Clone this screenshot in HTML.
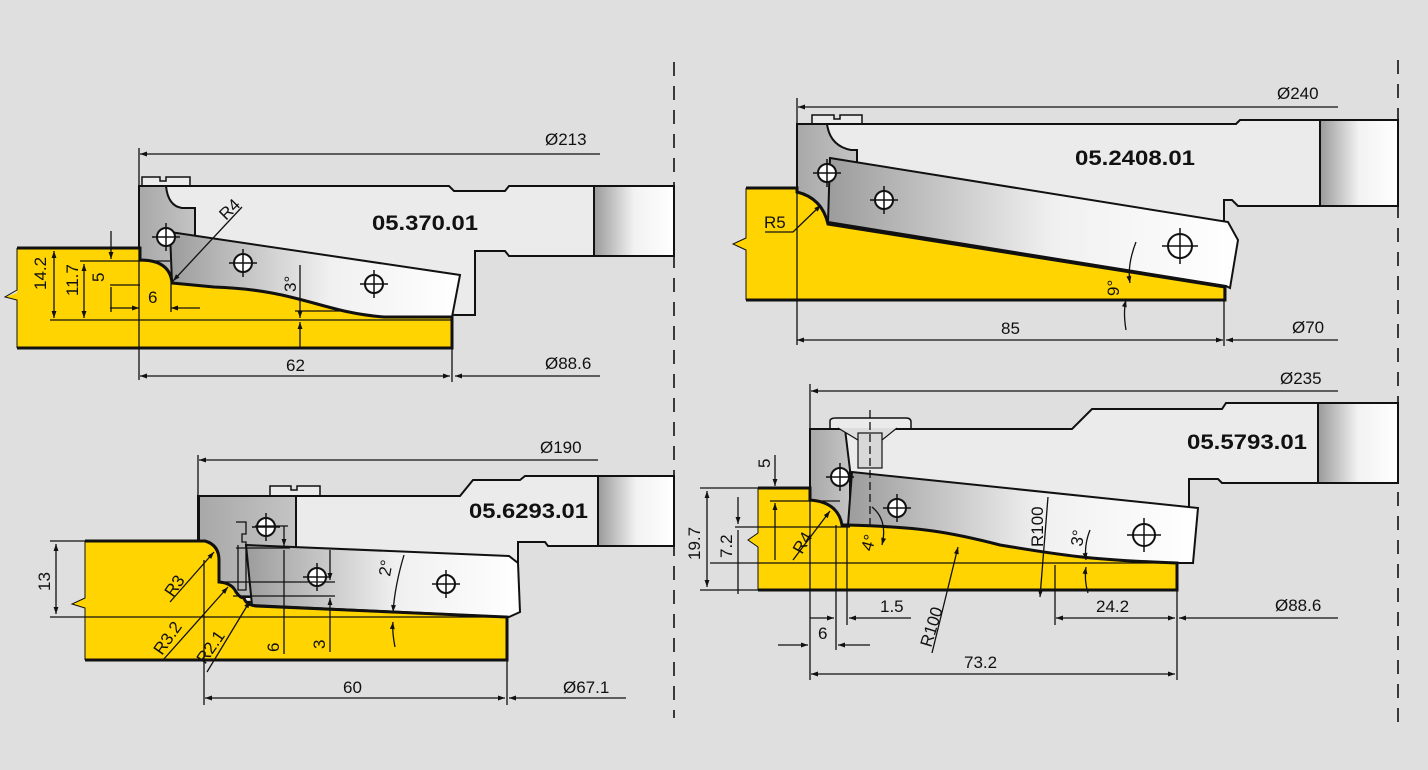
<!DOCTYPE html>
<html><head><meta charset="utf-8"><style>
html,body{margin:0;padding:0;background:#dfdfdf;}
svg{display:block;}
text{font-family:"Liberation Sans",sans-serif;fill:#111;}
.d{font-size:17px;}
.b{font-size:21px;font-weight:bold;}
</style></head><body>
<svg width="1428" height="770" viewBox="0 0 1428 770" xmlns="http://www.w3.org/2000/svg">
<defs>
<marker id="a" viewBox="0 0 10 10" refX="10" refY="5" markerWidth="9" markerHeight="7" orient="auto-start-reverse" markerUnits="userSpaceOnUse"><path d="M0,1.5 L10,5 L0,8.5z" fill="#111"/></marker>
<linearGradient id="hub" x1="0" x2="1"><stop offset="0" stop-color="#9a9a9a"/><stop offset="0.5" stop-color="#f2f2f2"/><stop offset="1" stop-color="#ffffff"/></linearGradient>
<linearGradient id="kn" x1="0" x2="1"><stop offset="0" stop-color="#9c9c9c"/><stop offset="0.55" stop-color="#f0f0f0"/><stop offset="1" stop-color="#ffffff"/></linearGradient>
<linearGradient id="hd" x1="0" x2="1"><stop offset="0" stop-color="#a8a8a8"/><stop offset="1" stop-color="#c4c4c4"/></linearGradient>
<g id="h"><circle r="9" fill="#fff" stroke="#111" stroke-width="2"/><path d="M-14,0H14M0,-14V14" stroke="#111" stroke-width="1.5"/></g>
</defs>
<rect width="1428" height="770" fill="#dfdfdf"/>
<g fill="none" stroke="#111" stroke-width="1.6" stroke-dasharray="14,10">
<line x1="674" y1="62" x2="674" y2="718"/><line x1="1398" y1="60" x2="1398" y2="722"/>
</g>

<!-- ===== Drawing 1 ===== -->
<g stroke="#111" stroke-width="1.5">
<path d="M139,186 H449 L454,191 H505 L509,186 H594 V256 H509 L505,251 H475 V315 H456 L139,300z" fill="#ebebeb" stroke-width="2"/>
<rect x="594" y="186" width="80" height="70" fill="url(#hub)" stroke-width="2"/>
<path d="M142,185 V177 H160 V181 H166 V177 H190 V185" fill="#ebebeb"/>
<path d="M139,186 H166 Q168,206 182,208 H195 V285 H139z" fill="url(#hd)" stroke-width="2"/>
<path d="M170,232 L460,275 L452,317 H384 C320,312 300,290 214,287 L172,283z" fill="url(#kn)" stroke-width="2"/>
<path d="M17,248 H140 V260 Q170,260 172,283 L214,287 C300,290 320,312 384,317 H452 V348 H17 V300 L5,297 L17,293z" fill="#ffd400" stroke="none"/>
<path d="M17,248 H140 V260 Q170,260 172,283 L214,287 C300,290 320,312 384,317 H452 V348 H17" fill="none" stroke-width="3"/>
<path d="M17,248 V290 L5,297 L17,300 V348" fill="none" stroke-width="1"/>
</g>
<use href="#h" x="166" y="237"/><use href="#h" x="243" y="263"/><use href="#h" x="374" y="284"/>
<g stroke="#111" stroke-width="1.3" fill="none">
<line x1="139" y1="148" x2="139" y2="380"/>
<line x1="600" y1="154" x2="140" y2="154" marker-end="url(#a)"/>
<line x1="50" y1="320" x2="452" y2="320"/>
<line x1="80" y1="261" x2="170" y2="261"/>
<line x1="110" y1="285" x2="140" y2="285"/>
<line x1="54" y1="251" x2="54" y2="318" marker-start="url(#a)" marker-end="url(#a)"/>
<line x1="84" y1="264" x2="84" y2="318" marker-start="url(#a)" marker-end="url(#a)"/>
<line x1="111" y1="231" x2="111" y2="259" marker-end="url(#a)"/>
<line x1="111" y1="287" x2="111" y2="312"/>
<line x1="110" y1="308" x2="139" y2="308" marker-end="url(#a)"/>
<line x1="200" y1="308" x2="171" y2="308" marker-end="url(#a)"/>
<line x1="171" y1="283" x2="171" y2="312"/>
<line x1="242" y1="207" x2="173" y2="281" marker-end="url(#a)"/>
<line x1="300" y1="265" x2="300" y2="318" marker-end="url(#a)"/>
<line x1="300" y1="348" x2="300" y2="322" marker-end="url(#a)"/>
<line x1="295" y1="311" x2="340" y2="311"/>
<line x1="452" y1="348" x2="452" y2="382"/>
<line x1="140" y1="376" x2="450" y2="376" marker-start="url(#a)" marker-end="url(#a)"/>
<line x1="600" y1="376" x2="455" y2="376" marker-end="url(#a)"/>
</g>
<text class="d" x="545" y="145" font-size="19">Ø213</text>
<text class="b" x="372" y="230" textLength="106" lengthAdjust="spacingAndGlyphs">05.370.01</text>
<text class="d" transform="translate(226,221) rotate(-45)">R4</text>
<text class="d" transform="translate(46,290) rotate(-90)">14.2</text>
<text class="d" transform="translate(78,296) rotate(-90)">11.7</text>
<text class="d" transform="translate(104,282) rotate(-90)">5</text>
<text class="d" x="148" y="303">6</text>
<text class="d" transform="translate(296,292) rotate(-90)" font-size="15">3°</text>
<text class="d" x="286" y="371" font-size="15">62</text>
<text class="d" x="545" y="369" font-size="19">Ø88.6</text>

<!-- ===== Drawing 2 ===== -->
<g stroke="#111" stroke-width="1.5">
<path d="M797,124 H1236 L1240,120 H1320 V206 H1238 L1232,200 H1224 V288 L797,230z" fill="#ebebeb" stroke-width="2"/>
<rect x="1320" y="120" width="78" height="86" fill="url(#hub)" stroke-width="2"/>
<path d="M812,123 V115 H834 V119 H840 V115 H862 V123" fill="#ebebeb"/>
<path d="M797,124 H827 Q830,146 851,150 H857 V225 H828 Q814,198 797,192z" fill="url(#hd)" stroke-width="2"/>
<path d="M830,158 L1228,222 L1238,240 L1230,288 L1226,286 L828,222z" fill="url(#kn)" stroke-width="2"/>
<path d="M746,188 H797 V192 Q822,198 828,224 L1225,287 V300 H746 V250 L733,244 L746,238z" fill="#ffd400" stroke="none"/>
<path d="M746,188 H797 V192 Q822,198 828,224 L1225,287 V300 H746" fill="none" stroke-width="3"/>
<path d="M746,188 V238 L733,244 L746,250 V300" fill="none" stroke-width="1"/>
</g>
<use href="#h" x="827" y="173"/><use href="#h" x="884" y="200"/>
<g transform="translate(1180,246)"><circle r="12" fill="#fff" stroke="#111" stroke-width="2"/><path d="M-18,0H18M0,-18V18" stroke="#111" stroke-width="1.5"/></g>
<g stroke="#111" stroke-width="1.3" fill="none">
<line x1="797" y1="98" x2="797" y2="345"/>
<line x1="1338" y1="107" x2="798" y2="107" marker-end="url(#a)"/>
<line x1="1224" y1="286" x2="1224" y2="346"/>
<line x1="797" y1="340" x2="1223" y2="340" marker-start="url(#a)" marker-end="url(#a)"/>
<line x1="1338" y1="340" x2="1226" y2="340" marker-end="url(#a)"/>
<path d="M1136,242 Q1127,265 1130,283" marker-end="url(#a)"/>
<path d="M1126,330 Q1123,312 1126,300" marker-end="url(#a)"/>
<path d="M765,232 H793 L821,205" marker-end="url(#a)"/>
</g>
<text class="d" x="1277" y="99" font-size="19">Ø240</text>
<text class="b" x="1075" y="165" textLength="120" lengthAdjust="spacingAndGlyphs">05.2408.01</text>
<text class="d" x="764" y="228" font-size="16">R5</text>
<text class="d" transform="translate(1119,296) rotate(-90)" font-size="15">9°</text>
<text class="d" x="1001" y="334" font-size="15">85</text>
<text class="d" x="1292" y="333" font-size="19">Ø70</text>

<!-- ===== Drawing 3 ===== -->
<g stroke="#111" stroke-width="1.5">
<path d="M198,496 H460 L473,480 H520 L525,476 H598 V546 H548 L545,542 H518 V612 L198,600z" fill="#ebebeb" stroke-width="2"/>
<rect x="598" y="476" width="76" height="70" fill="url(#hub)" stroke-width="2"/>
<path d="M270,495 V486 H291 V490 H297 V486 H320 V495" fill="#ebebeb"/>
<rect x="199" y="496" width="97" height="101" fill="url(#hd)" stroke-width="2"/>
<path d="M246,545 L509,556 L518,563 L520,612 L509,617 L252,605z" fill="url(#kn)" stroke-width="2"/>
<path d="M85,541 H205 Q219,545 219,560 V582 Q232,583 236,592 Q240,598 244,598 Q246,605 256,606 L507,617 V660 H85 V608 L72,604 L85,598z" fill="#ffd400" stroke="none"/>
<path d="M85,541 H205 Q219,545 219,560 V582 Q232,583 236,592 Q240,598 244,598 Q246,605 256,606 L507,617 V660 H85" fill="none" stroke-width="3"/>
<path d="M85,541 V598 L72,604 L85,608 V660" fill="none" stroke-width="1"/>
<path d="M236,522 H246 V534 H242 V542 H246 V590 H238 V545" fill="none" stroke-width="1.3"/>
</g>
<use href="#h" x="266" y="527"/><use href="#h" x="317" y="577"/><use href="#h" x="446" y="584"/>
<g stroke="#111" stroke-width="1.3" fill="none">
<line x1="198" y1="455" x2="198" y2="541"/>
<line x1="598" y1="460" x2="199" y2="460" marker-end="url(#a)"/>
<line x1="50" y1="541" x2="85" y2="541"/>
<line x1="50" y1="617" x2="507" y2="617"/>
<line x1="56" y1="544" x2="56" y2="614" marker-start="url(#a)" marker-end="url(#a)"/>
<line x1="236" y1="548" x2="290" y2="548"/>
<line x1="220" y1="582" x2="335" y2="582"/>
<line x1="233" y1="596" x2="335" y2="596"/>
<line x1="255" y1="526" x2="288" y2="526"/>
<line x1="284" y1="526" x2="284" y2="546" marker-end="url(#a)"/>
<line x1="284" y1="550" x2="284" y2="654"/>
<line x1="330" y1="550" x2="330" y2="580" marker-end="url(#a)"/>
<line x1="330" y1="598" x2="330" y2="652" marker-start="url(#a)"/>
<line x1="204" y1="560" x2="204" y2="705"/>
<line x1="507" y1="617" x2="507" y2="705"/>
<line x1="170" y1="602" x2="214" y2="552" marker-end="url(#a)"/>
<line x1="163" y1="660" x2="228" y2="587" marker-end="url(#a)"/>
<line x1="207" y1="672" x2="250" y2="601" marker-end="url(#a)"/>
<path d="M404,555 Q395,585 393,612" marker-end="url(#a)"/>
<path d="M395,647 Q392,632 393,622" marker-end="url(#a)"/>
<line x1="205" y1="698" x2="505" y2="698" marker-start="url(#a)" marker-end="url(#a)"/>
<line x1="626" y1="698" x2="509" y2="698" marker-end="url(#a)"/>
</g>
<text class="d" x="540" y="453" font-size="19">Ø190</text>
<text class="b" x="469" y="518" textLength="119" lengthAdjust="spacingAndGlyphs">05.6293.01</text>
<text class="d" transform="translate(50,591) rotate(-90)">13</text>
<text class="d" transform="translate(173,598) rotate(-55)">R3</text>
<text class="d" transform="translate(162,656) rotate(-55)">R3.2</text>
<text class="d" transform="translate(205,665) rotate(-55)">R2.1</text>
<text class="d" transform="translate(279,652) rotate(-90)">6</text>
<text class="d" transform="translate(325,649) rotate(-90)">3</text>
<text class="d" transform="translate(390,577) rotate(-80)" font-size="15">2°</text>
<text class="d" x="343" y="693">60</text>
<text class="d" x="563" y="693" font-size="19">Ø67.1</text>

<!-- ===== Drawing 4 ===== -->
<g stroke="#111" stroke-width="1.5">
<path d="M810,429 H1072 L1092,409 H1222 L1226,403 H1318 V483 H1222 L1218,479 H1189 V510 L1193,563 L810,540z" fill="#ebebeb" stroke-width="2"/>
<rect x="1318" y="403" width="80" height="80" fill="url(#hub)" stroke-width="2"/>
<path d="M830,428 V421 Q830,418 836,418 H906 Q911,418 911,422 V428" fill="#ebebeb"/>
<path d="M810,429 H845 L850,470 V525 H840 Q830,505 810,500z" fill="url(#hd)" stroke-width="2"/>
<path d="M838,428 L858,440 L882,440 L897,428" fill="#ddd" stroke-width="1.2"/>
<rect x="858" y="433" width="24" height="35" fill="#d8d8d8" stroke-width="1.2"/>
<path d="M852,472 L1198,508 L1193,563 H1177 C1090,560 1060,555 1000,545 C950,532 920,527 848,525z" fill="url(#kn)" stroke-width="2"/>
<path d="M758,488 H810 V500 Q838,502 842,525 L848,525 C920,527 950,532 1000,545 C1060,555 1090,560 1177,563 V590 H758 V547 L748,540 L758,533z" fill="#ffd400" stroke="none"/>
<path d="M758,488 H810 V500 Q838,502 842,525 L848,525 C920,527 950,532 1000,545 C1060,555 1090,560 1177,563 V590 H758" fill="none" stroke-width="3"/>
<path d="M758,488 V533 L748,540 L758,547 V590" fill="none" stroke-width="1"/>
</g>
<use href="#h" x="840" y="477"/><use href="#h" x="897" y="508"/>
<g transform="translate(1144,535)"><circle r="11" fill="#fff" stroke="#111" stroke-width="2"/><path d="M-17,0H17M0,-17V17" stroke="#111" stroke-width="1.5"/></g>
<g stroke="#111" stroke-width="1.3" fill="none">
<line x1="810" y1="384" x2="810" y2="680"/>
<line x1="1338" y1="391" x2="811" y2="391" marker-end="url(#a)"/>
<line x1="870" y1="410" x2="870" y2="530" stroke-dasharray="8,4"/>
<line x1="700" y1="488" x2="758" y2="488"/>
<line x1="700" y1="590" x2="810" y2="590"/>
<line x1="735" y1="527" x2="850" y2="527"/>
<line x1="710" y1="563" x2="1177" y2="563"/>
<line x1="770" y1="501" x2="840" y2="501"/>
<line x1="707" y1="491" x2="707" y2="587" marker-start="url(#a)" marker-end="url(#a)"/>
<line x1="738" y1="497" x2="738" y2="524" marker-end="url(#a)"/>
<line x1="738" y1="530" x2="738" y2="594"/>
<line x1="775" y1="455" x2="775" y2="486" marker-end="url(#a)"/>
<line x1="775" y1="503" x2="775" y2="560" marker-start="url(#a)"/>
<line x1="793" y1="560" x2="830" y2="511" marker-end="url(#a)"/>
<path d="M872,507 Q888,520 882,545" marker-end="url(#a)"/>
<line x1="1048" y1="497" x2="1040" y2="597" marker-end="url(#a)"/>
<line x1="932" y1="653" x2="958" y2="547" marker-end="url(#a)"/>
<path d="M1090,530 Q1084,545 1086,560" marker-end="url(#a)"/>
<path d="M1088,593 Q1084,580 1086,567" marker-end="url(#a)"/>
<line x1="836" y1="525" x2="836" y2="650"/>
<line x1="847" y1="525" x2="847" y2="625"/>
<line x1="1055" y1="565" x2="1055" y2="625"/>
<line x1="1177" y1="563" x2="1177" y2="680"/>
<line x1="810" y1="618" x2="834" y2="618" marker-end="url(#a)"/>
<line x1="911" y1="618" x2="849" y2="618" marker-end="url(#a)"/>
<line x1="778" y1="645" x2="808" y2="645" marker-end="url(#a)"/>
<line x1="870" y1="645" x2="838" y2="645" marker-end="url(#a)"/>
<line x1="1056" y1="618" x2="1175" y2="618" marker-start="url(#a)" marker-end="url(#a)"/>
<line x1="1338" y1="618" x2="1179" y2="618" marker-end="url(#a)"/>
<line x1="811" y1="674" x2="1175" y2="674" marker-start="url(#a)" marker-end="url(#a)"/>
</g>
<text class="d" x="1280" y="384" font-size="19">Ø235</text>
<text class="b" x="1187" y="449" textLength="120" lengthAdjust="spacingAndGlyphs">05.5793.01</text>
<text class="d" transform="translate(770,468) rotate(-90)">5</text>
<text class="d" transform="translate(700,560) rotate(-90)">19.7</text>
<text class="d" transform="translate(732,558) rotate(-90)">7.2</text>
<text class="d" transform="translate(802,555) rotate(-60)">R4</text>
<text class="d" transform="translate(872,552) rotate(-75)" font-size="15">4°</text>
<text class="d" transform="translate(1043,547) rotate(-90)">R100</text>
<text class="d" transform="translate(1082,547) rotate(-80)" font-size="15">3°</text>
<text class="d" x="880" y="612">1.5</text>
<text class="d" x="818" y="639">6</text>
<text class="d" transform="translate(931,648) rotate(-73)">R100</text>
<text class="d" x="1096" y="612">24.2</text>
<text class="d" x="964" y="668">73.2</text>
<text class="d" x="1275" y="611" font-size="19">Ø88.6</text>
</svg>
</body></html>
